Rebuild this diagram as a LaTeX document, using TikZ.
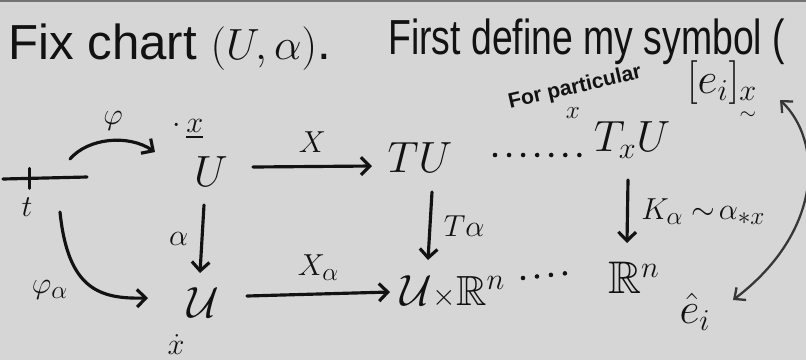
\documentclass[tikz,border=0pt]{standalone}
\usepackage{amsmath,amssymb}
\usepackage{fontspec}
\setmainfont{Liberation Sans}
\usepackage{tikz}
\usetikzlibrary{arrows.meta, positioning, calc}
\definecolor{PaperGray}{RGB}{214, 214, 214}
\definecolor{InkBlack}{RGB}{18, 18, 18}
\definecolor{InkGray}{RGB}{55, 55, 55}
\tikzset{
  ink/.style={draw=InkBlack, line width=1.8pt, line cap=round},
  inkarr/.style={-{Straight Barb[length=5pt, width=10pt]}, ink},
  thinarr/.style={{Straight Barb[length=5pt, width=9pt]}-{Straight Barb[length=5pt, width=9pt]},
    draw=InkGray, line width=1.3pt, line cap=round},
  dotline/.style={draw=InkBlack, line width=2.6pt, line cap=round,
    dash pattern=on 0pt off 8pt},
  hand/.style={text=InkBlack, font=\fontsize{28}{30}\selectfont, inner sep=0pt},
  obj/.style={text=InkBlack, font=\fontsize{26}{30}\selectfont, inner sep=1pt},
  lbl/.style={text=InkBlack, font=\fontsize{19}{22}\selectfont, inner sep=1pt},
  note/.style={text=InkBlack, font=\fontsize{12}{14}\selectfont\bfseries, inner sep=1pt},
}

\begin{document}
\begin{tikzpicture}[x=0.02cm, y=-0.02cm]
  \fill[PaperGray] (0,0) rectangle (806,360);
  \useasboundingbox (0,0) rectangle (806,360);
  \fill[InkGray!70] (0,0) rectangle (806,2);

  % heading
  \node[hand, anchor=west] (fix) at (8,47) {Fix chart $(U,\alpha)$.};
  \node[hand, anchor=west] (first) at (388,42) {\scalebox{0.76}[1]{First define my symbol (}};

  % top row
  \node[obj] (U) at (211,172) {$U$};
  \node[lbl] (xdotU) at (188,129) {$\cdot\,\underline{x}$};
  \node[obj] (TU) at (420,158) {$TU$};
  \node[obj] (TxU) at (632,140) {$T_{x}U$};
  \node[note, rotate=13] (forpart) at (575,88) {For particular};
  \node[note, font=\fontsize{14}{16}\selectfont] (forx) at (573,113) {$x$};
  \node[obj, inner sep=0pt] (ebr) at (722,92) {$[e_i]_{\underset{\sim}{x}}$};

  % bottom row
  \node[obj] (Ucal) at (203,303) {$\mathcal{U}$};
  \node[lbl] (xdotUcal) at (176,345) {$\dot{x}$};
  \node[obj, font=\fontsize{24}{28}\selectfont] (UxR) at (453,292) {$\mathcal{U}{\scriptstyle\times}\mathbb{R}^n$};
  \node[obj] (Rn) at (634,278) {$\mathbb{R}^n$};
  \node[obj] (ehat) at (695,312) {$\hat{e}_i$};

  % the interval
  \coordinate (tL) at (3,179);
  \coordinate (tR) at (87,177);
  \draw[ink] (tL) -- (tR);
  \draw[ink] ($(tL)!0.32!(tR)+(0,-10)$) -- ++(0,20);
  \node[lbl] (t) at (27,207) {$t$};

  % curves out of the interval
  \draw[inkarr] ($(tR)+(-17,-18)$) .. controls (88,138) and (128,134) .. ($(U)+(-56,-20)$);
  \node[lbl] (phi) at (113,121) {$\varphi$};
  \draw[inkarr] ($(tR)+(-27,35)$) .. controls (68,290) and (100,299) .. ($(Ucal)+(-55,-5)$);
  \node[lbl] (phia) at (50,290) {$\varphi_\alpha$};

  % square
  \draw[inkarr] ($(U)+(42,-5)$) -- node[lbl, above=6pt] {$X$} ($(TU)+(-48,8)$);
  \draw[inkarr] ($(U)+(-7,33)$) -- node[lbl, left=6pt] {$\alpha$} ($(Ucal)+(-3,-30)$);
  \draw[inkarr] ($(Ucal)+(44,-7)$) -- node[lbl, above=6pt] {$X_\alpha$} ($(UxR)+(-63,0)$);
  \draw[inkarr] ($(TU)+(12,34)$) -- node[lbl, right=6pt] {$T\alpha$} ($(UxR)+(-25,-32)$);

  % fibre at x
  \draw[dotline] ($(TU)+(75,-3)$) -- ($(TxU)+(-50,15)$);
  \draw[dotline] ($(UxR)+(70,-14)$) -- ($(Rn)+(-57,-6)$);
  \draw[inkarr] ($(TxU)+(-4,40)$) -- node[lbl, right=6pt] {$K_\alpha \sim\!\alpha_{*x}$} ($(Rn)+(-7,-35)$);

  % correspondence
  \draw[thinarr] ($(ebr)+(58,8)$) .. controls (822,140) and (825,230) .. ($(ehat)+(38,-12)$);
\end{tikzpicture}
\end{document}
